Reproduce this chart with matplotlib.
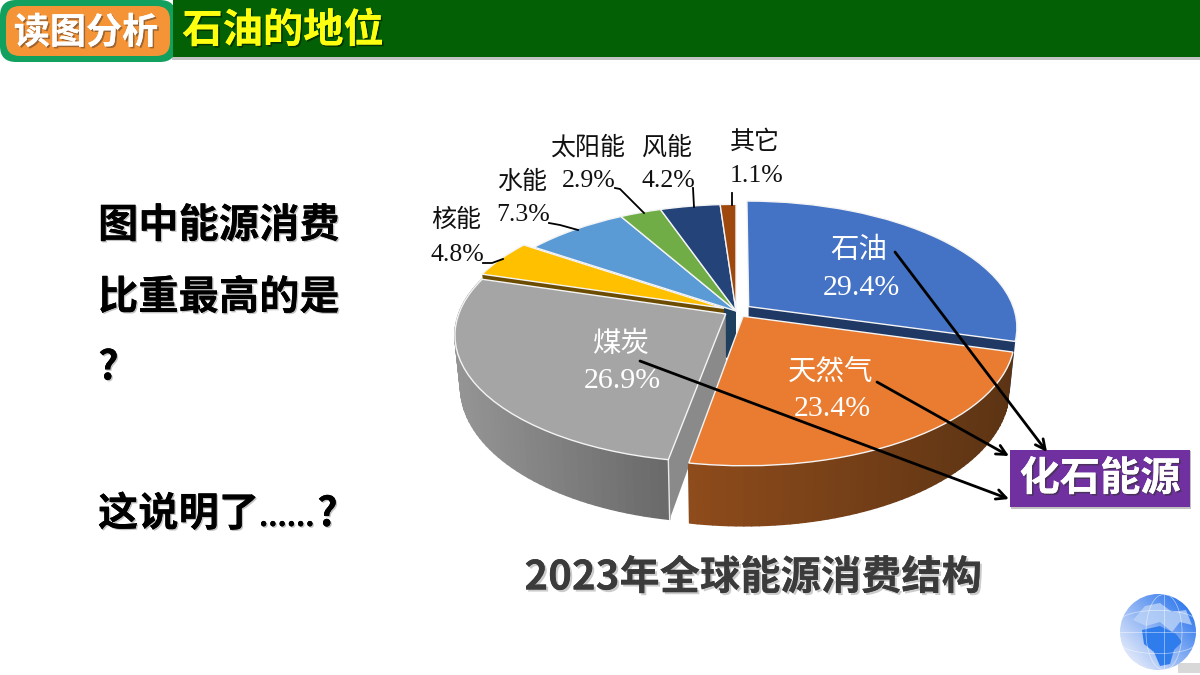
import numpy as np
import matplotlib
matplotlib.use("Agg")
import matplotlib.pyplot as plt
import matplotlib.patheffects as pe
from matplotlib.collections import PolyCollection
from matplotlib.patches import Rectangle, FancyBboxPatch, Circle, Polygon
from matplotlib.transforms import Transform

plt.rcParams['font.family'] = ['Noto Sans CJK SC', 'DejaVu Sans']

# ---- data ----
categories = ['石油', '天然气', '煤炭', '核能', '水能', '太阳能', '风能', '其它']
shares = [29.4, 23.4, 26.9, 4.8, 7.3, 2.9, 4.2, 1.1]
slice_colors = ['#4472c4', '#e97c30', '#a5a5a5', '#ffc000', '#5b9bd5', '#70ad47', '#234379', '#9e480e']
explode = [0.06, 0.05, 0.045, 0.05, 0, 0, 0, 0]
title_text = '2023年全球能源消费结构'
header_tab = '读图分析'
header_title = '石油的地位'
question_lines = ['图中能源消费', '比重最高的是', '?']
question_last = '这说明了'
question_dots = '......'
question_mark = '?'
callout = '化石能源'

# ---- layout ----
CX, CY, R, K, P, H = 736, 311, 266, 0.465, 0.16, 50
label_xy = [(859, 250, 861, 288), (831, 372, 832, 409), (621, 344, 622, 381),
            (456, 220, 457, 255), (522, 182, 523, 215), (588, 148, 589, 181),
            (667, 148, 668, 181), (755, 142, 757, 176)]


class Persp(Transform):
    """Tilted-plane projection of the unit pie plane into pixel coordinates."""
    input_dims = output_dims = 2

    def __init__(self, xscale=1.0, drop=0.0):
        super().__init__()
        self.xs, self.drop = xscale, drop

    def transform_non_affine(self, values):
        values = np.asarray(values, float)
        u, v = values[:, 0], values[:, 1]
        d = 1 / (1 + P * v)
        return np.column_stack((CX + R * u * d * self.xs, CY - R * K * v * d + self.drop * d))


TOP, BOT = Persp(), Persp(0.98, H)

fig = plt.figure(figsize=(12, 6.75), dpi=100, facecolor='white')
ax = fig.add_axes([0, 0, 1, 1])

wedges, _ = ax.pie(shares, explode=explode, colors=slice_colors, startangle=90, counterclock=False,
                   radius=1, wedgeprops=dict(edgecolor='#f4f4f4', linewidth=1.0))
ax.set_aspect('auto')
ax.set_xlim(0, 1200)
ax.set_ylim(675, 0)
ax.axis('off')


def plane(w, deg, r=1.0):
    a = np.radians(deg)
    return np.column_stack((w.center[0] + r * np.cos(a), w.center[1] + r * np.sin(a)))


def radial_wall(w, deg, color, z):
    p0 = np.array([w.center])
    p1 = plane(w, np.array([deg]))
    pts = np.vstack((TOP.transform(p0), TOP.transform(p1), BOT.transform(p1), BOT.transform(p0)))
    ax.add_patch(Polygon(pts, closed=True, facecolor=color, edgecolor='none', zorder=z))
    return pts


def outer_wall(w, a1, a2, c_left, c_right, z):
    degs = np.linspace(a1, a2, 60)
    pts_t, pts_b = TOP.transform(plane(w, degs)), BOT.transform(plane(w, degs))
    xmin, xmax = pts_t[:, 0].min(), pts_t[:, 0].max()
    polys, cols = [], []
    cl, cr = np.array(matplotlib.colors.to_rgb(c_left)), np.array(matplotlib.colors.to_rgb(c_right))
    for i in range(len(degs) - 1):
        polys.append([pts_t[i], pts_t[i + 1], pts_b[i + 1], pts_b[i]])
        t = (pts_t[i, 0] - xmin) / max(xmax - xmin, 1)
        cols.append(cl + (cr - cl) * t)
    ax.add_collection(PolyCollection(polys, facecolors=cols, edgecolors=cols, linewidths=1.2, zorder=z))


w_oil, w_gas, w_coal, w_nuc, w_hyd, w_sol, w_wind, w_oth = wedges
# back group
radial_wall(w_hyd, w_hyd.theta2, '#1f3f5f', 1)
for w in (w_hyd, w_sol, w_wind, w_oth):
    w.set_zorder(2)
# nuclear
radial_wall(w_nuc, w_nuc.theta2, '#6b4c00', 3)
w_nuc.set_zorder(4)
# oil
radial_wall(w_oil, w_oil.theta1, '#1f3864', 3)
w_oil.set_zorder(4)
# coal: theta1 is the left corner, theta2 the front corner
outer_wall(w_coal, w_coal.theta1, w_coal.theta2, '#959595', '#686868', 5)
cw = radial_wall(w_coal, w_coal.theta2, '#8a8a8a', 5.2)
ax.plot(cw[1:3, 0], cw[1:3, 1], color='#e8e8e8', lw=1.0, zorder=5.5)
w_coal.set_zorder(6)
# gas
outer_wall(w_gas, w_gas.theta1, w_gas.theta2, '#8e4b1b', '#5c3414', 7)
w_gas.set_zorder(8)

for w in wedges:
    w.set_transform(TOP + ax.transData)
    w.set_clip_on(False)

# ---- pie labels ----
FONT = ['Liberation Serif', 'Noto Sans CJK SC']
for i, (name, val) in enumerate(zip(categories, shares)):
    x1, y1, x2, y2 = label_xy[i]
    big = i < 3
    col = 'white' if big else '#111111'
    ax.text(x1, y1, name, ha='center', va='center', fontsize=20.5 if big else 18, color=col,
            family=['Noto Sans CJK SC'], zorder=20)
    ax.text(x2, y2, f'{val}%', ha='center', va='center', fontsize=21.5 if big else 18.5, color=col,
            family=FONT, zorder=20)

# leader lines
leaders = [([732, 732], [193, 205]), ([693, 694], [188, 207]),
           ([615, 620, 644], [188, 189, 213]), ([549, 560, 578], [223, 225, 230]),
           ([483, 492, 503], [263, 263, 259])]
for xs, ys in leaders:
    ax.plot(xs, ys, color='black', lw=1.3, zorder=15)

# arrows to the callout
arrows = [((895, 252), (1047, 452)), ((877, 382), (1009, 456)), ((640, 361), (1009, 499))]
for a, b in arrows:
    ax.annotate('', xy=b, xytext=a, zorder=30,
                arrowprops=dict(arrowstyle='->,head_length=0.7,head_width=0.35', color='black', lw=2,
                                shrinkA=0, shrinkB=0))

# ---- callout ----
ax.add_patch(Rectangle((1011, 451), 180, 58, facecolor='#999999', edgecolor='none', alpha=0.6, zorder=24))
ax.add_patch(Rectangle((1010, 450), 180, 57, facecolor='#7030a0', edgecolor='none', zorder=25))
ax.text(1100, 479, callout, ha='center', va='center', fontsize=29, fontweight='bold', color='white', zorder=26,
        path_effects=[pe.withSimplePatchShadow(offset=(1.2, -1.2), shadow_rgbFace='#333333', alpha=0.6), pe.Normal()])

# ---- header ----
ax.add_patch(Rectangle((172, 57), 1028, 3, facecolor='#aaaaaa', edgecolor='none', alpha=0.7, zorder=3))
ax.add_patch(FancyBboxPatch((0, 0), 176, 62, boxstyle='round,pad=0,rounding_size=16',
                            facecolor='#12a05e', edgecolor='none', zorder=4))
ax.add_patch(FancyBboxPatch((6, 6), 164, 50, boxstyle='round,pad=0,rounding_size=14',
                            facecolor='#f59437', edgecolor='none', zorder=5))
ax.add_patch(Rectangle((173, 0), 1027, 57, facecolor='#046004', edgecolor='none', zorder=6))
ax.text(86, 33, header_tab, ha='center', va='center', fontsize=26, fontweight='bold', color='white', zorder=7,
        path_effects=[pe.withSimplePatchShadow(offset=(1.2, -1.2), shadow_rgbFace='#8a5a30', alpha=0.8), pe.Normal()])
ax.text(283, 31, header_title, ha='center', va='center', fontsize=29, fontweight='bold', color='#ffff10', zorder=7,
        path_effects=[pe.withSimplePatchShadow(offset=(1.2, -1.2), shadow_rgbFace='#002a00', alpha=0.8), pe.Normal()])

# ---- question text ----
shadow = [pe.withSimplePatchShadow(offset=(1, -1), shadow_rgbFace='#888888', alpha=0.5), pe.Normal()]
for line, y in zip(question_lines, [226, 298, 368]):
    ax.text(98, y, line, ha='left', va='center', fontsize=29, fontweight='bold', color='black', path_effects=shadow)
ax.text(98, 526, question_last, ha='left', va='baseline', fontsize=29, fontweight='bold', color='black', path_effects=shadow)
ax.text(259, 526, question_dots, ha='left', va='baseline', fontsize=20.5, fontweight='bold', color='black', path_effects=shadow)
ax.text(317, 526, question_mark, ha='left', va='baseline', fontsize=29, fontweight='bold', color='black', path_effects=shadow)

# ---- chart title ----
ax.text(753, 578, title_text, ha='center', va='center', fontsize=29, fontweight='bold', color='#3b3b3b',
        path_effects=[pe.withSimplePatchShadow(offset=(1.5, -1.5), shadow_rgbFace='#999999', alpha=0.5), pe.Normal()])

# ---- globe decoration ----
gx, gy, gr = 1158, 632, 38
yy, xx = np.mgrid[-1:1:200j, -1:1:200j]
t = np.clip((xx - yy * 0.9 + 1.4) / 2.8, 0, 1)
low, high = np.array([0.88, 0.91, 0.98]), np.array([0.20, 0.48, 0.93])
img = low + (high - low) * t[..., None]
clip = Circle((gx, gy), gr, transform=ax.transData)
im = ax.imshow(img, extent=(gx - gr, gx + gr, gy + gr, gy - gr), aspect='auto', zorder=3)
im.set_clip_path(clip)
land = [[(1133, 620), (1145, 606), (1160, 603), (1172, 612), (1186, 610), (1192, 625), (1180, 622), (1172, 632), (1160, 622), (1146, 626)]]
for poly in land:
    pg = Polygon(poly, closed=True, facecolor='#bcd4f8', edgecolor='none', alpha=0.8, zorder=4)
    ax.add_patch(pg)
    pg.set_clip_path(clip)
africa = Polygon([(1142, 630), (1160, 626), (1176, 634), (1182, 642), (1174, 650), (1170, 664), (1160, 666), (1154, 652), (1144, 644)],
                 closed=True, facecolor='#2f7cec', edgecolor='none', zorder=4)
ax.add_patch(africa)
africa.set_clip_path(clip)
for off in (-18, 0, 18):
    arc = np.linspace(-1, 1, 40)
    l1, = ax.plot(gx + off * np.sqrt(1 - arc ** 2) + 6, gy + gr * arc, color='white', lw=0.5, alpha=0.6, zorder=5)
    l2, = ax.plot(gx + gr * arc, gy + off * np.sqrt(1 - arc ** 2) * 0.6 + off * 0.6, color='white', lw=0.5, alpha=0.6, zorder=5)
    l1.set_clip_path(clip)
    l2.set_clip_path(clip)
ax.add_patch(Rectangle((1178, 663), 22, 10, facecolor='#cfcfcf', edgecolor='none', alpha=0.8, zorder=2))

ax.set_xlim(0, 1200)
ax.set_ylim(675, 0)
fig.savefig('out.png', dpi=100)
